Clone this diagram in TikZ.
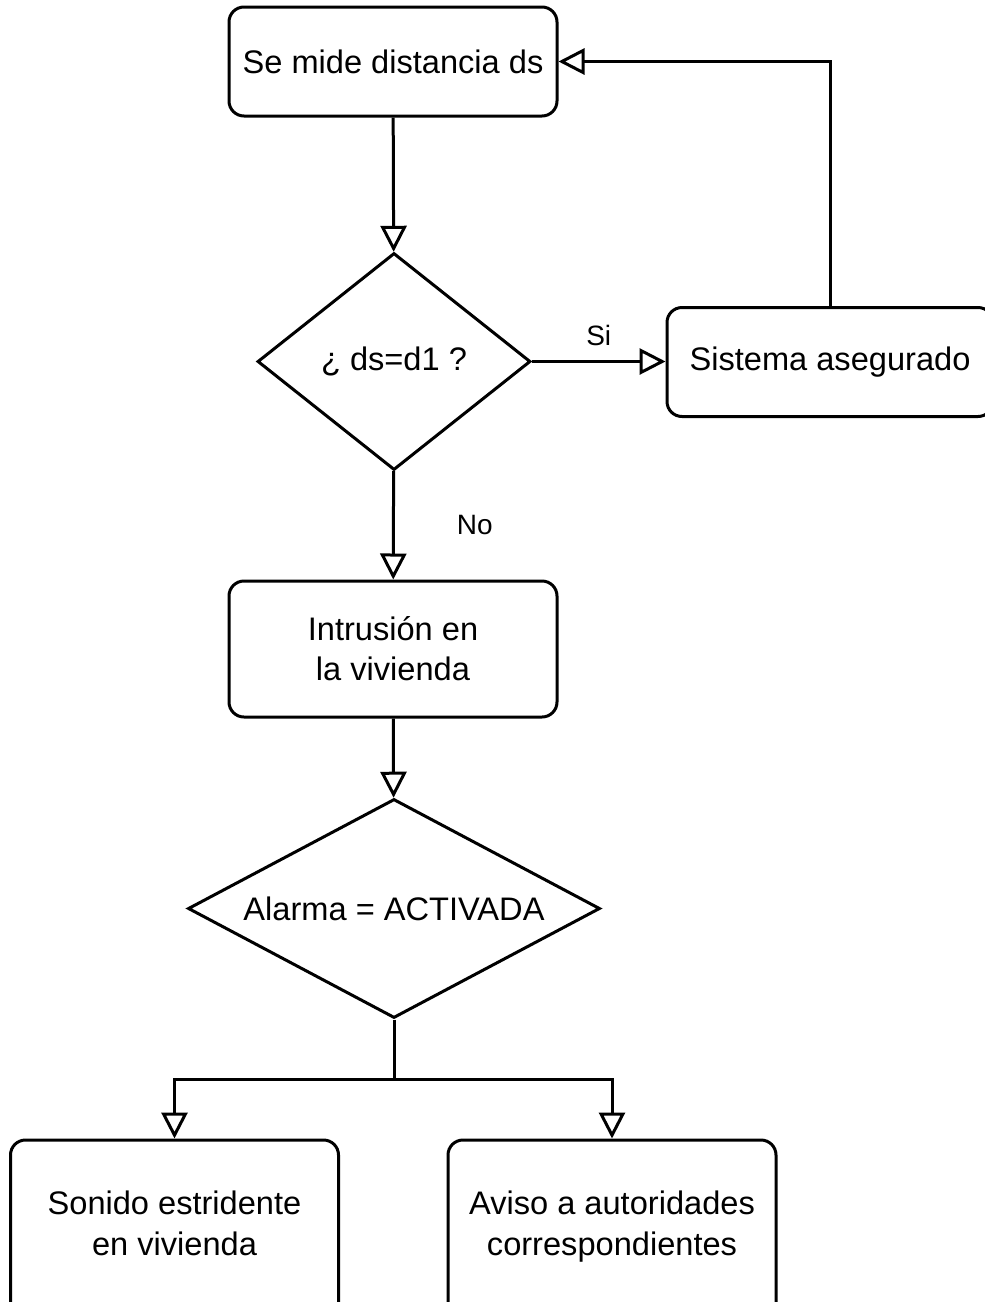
\documentclass[tikz,border=0pt]{standalone}
\usepackage{fontspec}
\setmainfont{Liberation Sans}
\usetikzlibrary{shapes.geometric,arrows.meta,positioning}

\begin{document}
\begin{tikzpicture}[x=0.5pt,y=-0.5pt,line width=1.5pt,
  box/.style={draw,rounded corners=7.5pt,minimum width=164pt,align=center,
    font=\fontsize{16.3}{20}\selectfont},
  decision/.style={draw,diamond,inner sep=0pt,align=center,
    font=\fontsize{16.3}{20}\selectfont},
  flow/.style={-{Triangle[open,length=13pt,width=13pt]}},
  lbl/.style={inner sep=0pt,font=\fontsize{14}{16}\selectfont}]
  \useasboundingbox (0,0) rectangle (985,1302);
  \node [box,minimum height=54.5pt] (mide) at (393,61.5) {Se mide distancia ds};
  \node [decision,shape aspect=1.26,minimum width=136.5pt,minimum height=108.5pt] (igual) at (394,361.5) {¿ ds=d1 ?};
  \node [box,minimum width=163pt,minimum height=54.5pt] (sist) at (830,362) {Sistema asegurado};
  \node [box,minimum height=68pt] (intr) at (393,649) {Intrusión en\\la vivienda};
  \node [decision,shape aspect=1.88,minimum width=206pt,minimum height=109.5pt] (alarma) at (394,908.5) {Alarma = ACTIVADA};
  \node [box,minimum height=89pt,font=\fontsize{16.3}{20.5}\selectfont] (sonido) at (174.5,1229) {Sonido estridente\\en vivienda\strut};
  \node [box,minimum height=89pt,font=\fontsize{16.3}{20.5}\selectfont] (aviso) at (612,1229) {Aviso a autoridades\\correspondientes\strut};
  \coordinate (split) at (394,1079);

  \draw [flow] (mide) -- (igual);
  \draw [flow] (igual) -- node [lbl,above=7pt] (si) {Si} (sist.west |- igual);
  \draw [flow] (sist.north) |- (mide.east);
  \draw [flow] (igual) -- node [lbl,right=31pt] (no) {No} (intr);
  \draw [flow] (intr) -- (alarma);
  \draw [flow] (alarma.south) -- (split) -| (sonido.north);
  \draw [flow] (split) -| (aviso.north);
\end{tikzpicture}
\end{document}
